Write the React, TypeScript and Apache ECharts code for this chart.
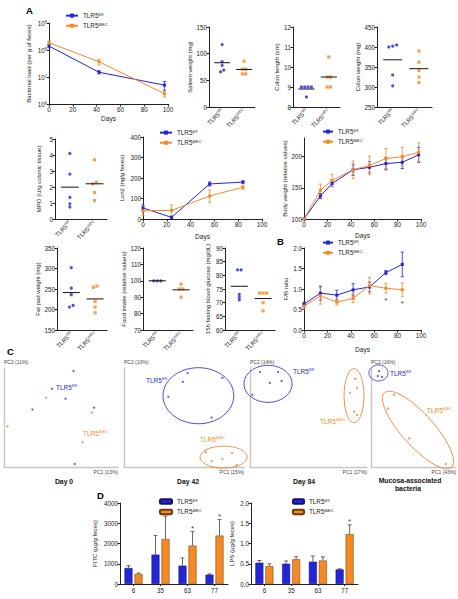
import React, { useEffect, useRef } from 'react';
import * as echarts from 'echarts';

const BLUE = '#2424d8';
const ORANGE = '#f48a26';
const AX = '#222222';
const FONT = '"Liberation Sans", Arial, Helvetica, sans-serif';

// ---------- A: bacterial load (per g of feces), log scale
const loadDays = [0, 42, 97];
const loadFl = [1.4e8, 1.5e7, 5.0e6];
const loadFlSem = [2.0e7, 2.0e6, 1.8e6];
const loadKo = [1.85e8, 3.7e7, 2.4e6];
const loadKoSem = [2.5e7, 9.0e6, 6.0e5];

// ---------- dot plots (one value per mouse)
const spleenFl = [117, 85, 78, 69, 66];
const spleenKo = [86, 71, 71, 62, 62];
const colonLenFl = [9, 9, 9, 9, 8.5];
const colonLenKo = [10.5, 9.5, 9.5, 9, 9];
const colonWtFl = [405, 402, 400, 330, 303];
const colonWtKo = [390, 362, 341, 325, 311];
const mpoFl = [4.1, 2.8, 1.35, 0.95, 0.75];
const mpoKo = [3.7, 2.3, 2.2, 1.65, 1.15];
const fatFl = [302, 252, 236, 210, 206];
const fatKo = [257, 254, 220, 206, 192];
const foodFl = [100, 100, 100];
const foodKo = [98, 95, 95, 90];
const glucoseFl = [82, 82, 73, 72, 71];
const glucoseKo = [73.5, 73.5, 73.5, 70, 67];

// ---------- Lcn2
const lcnDays = [0, 24, 56, 84];
const lcnFl = [54, 8, 171, 180];
const lcnFlSem = [14, 4, 10, 6];
const lcnKo = [40, 42, 112, 155];
const lcnKoSem = [24, 26, 30, 10];

// ---------- Body weight
const bwDays = [0, 14, 24, 42, 56, 70, 84, 98];
const bwFl = [100, 137, 157, 179, 183, 189, 191, 203];
const bwFlSem = [0, 4, 5, 9, 9, 10, 10, 12];
const bwKo = [100, 146, 162, 179, 186, 197, 200, 207];
const bwKoSem = [0, 10, 10, 14, 15, 16, 15, 15];

// ---------- B: F/B ratio
const fbDays = [0, 14, 28, 42, 56, 70, 84];
const fbFl = [0.63, 0.9, 0.85, 0.98, 1.05, 1.4, 1.6];
const fbFlSem = [0.05, 0.17, 0.12, 0.15, 0.12, 0.05, 0.3];
const fbKo = [0.58, 0.83, 0.68, 0.77, 1.08, 1.02, 0.98];
const fbKoSem = [0.07, 0.2, 0.07, 0.1, 0.2, 0.12, 0.17];
const fbSig = [false, false, false, false, false, true, true];

// ---------- C: PCA coordinates (arbitrary units 0-100)
const pca0Fl = [[61, 97], [42, 79], [54, 69], [25, 58], [79, 60], [62, 3]];
const pca0Ko = [[37, 70], [3, 41], [77, 55], [69, 25]];
const pca42Fl = [[53, 95], [49, 86], [82, 90], [37, 71], [73, 50]];
const pca42Ko = [[68, 15], [73, 6], [82, 8], [90, 14], [94, 2]];
const pca84Fl = [[8.5, 96], [24, 96], [17, 85], [27, 87], [2, 73]];
const pca84Ko = [[90, 89], [91.5, 80], [85.5, 75], [89, 56], [91.5, 52.5]];
const pcaMuFl = [[9.4, 97], [8, 92], [13, 91]];
const pcaMuKo = [[27, 73], [20, 59], [45, 29], [88, 3]];
// ellipses: [cx, cy, rx, ry, angle(deg)]
const ell42Fl = [[62, 72, 29.5, 28.3, 0]];
const ell42Ko = [[83, 10, 19.6, 11.1, 0]];
const ell84Fl = [[15.4, 84, 20.5, 18.7, 0]];
const ell84Ko = [[88.9, 72, 8.5, 27.3, 0]];
const ellMuFl = [[8.8, 95, 11.2, 8.1, 0]];
const ellMuKo = [[55.3, 37.4, 59, 16.2, 48]];

// ---------- D
const dCats = ['6', '35', '63', '77'];
const fitcFl = [790, 1450, 906, 461];
const fitcFlSem = [115, 940, 380, 33];
const fitcKo = [494, 2224, 1895, 2390];
const fitcKoSem = [49, 1130, 705, 790];
const fitcSig = [false, false, true, true];
const lpsFl = [0.525, 0.5, 0.55, 0.36];
const lpsFlSem = [0.055, 0.07, 0.14, 0.015];
const lpsKo = [0.44, 0.61, 0.58, 1.23];
const lpsKoSem = [0.06, 0.06, 0.09, 0.23];
const lpsSig = [false, false, false, true];

const FL = '{b|TLR5}{s|fl/fl}';
const KO = '{b|TLR5}{s|ΔIEC}';

const rich = (size: number, color: string) => ({
  b: { fontSize: size, color, fill: color, fontFamily: FONT, lineHeight: size * 1.15 },
  s: { fontSize: size * 0.62, color, fill: color, fontFamily: FONT, verticalAlign: 'top', lineHeight: size * 0.7 },
});

const mean = (a: number[]) => a.reduce((s, v) => s + v, 0) / a.length;

function spread(vals: number[], center: number, tol: number, step: number) {
  const idx = vals.map((_, i) => i).sort((a, b) => vals[a] - vals[b]);
  const out: number[][] = new Array(vals.length);
  let i = 0;
  while (i < idx.length) {
    let j = i;
    while (j + 1 < idx.length && vals[idx[j + 1]] - vals[idx[j]] <= tol) j++;
    const n = j - i + 1;
    for (let k = 0; k < n; k++) {
      const id = idx[i + k];
      out[id] = [center + (k - (n - 1) / 2) * step, vals[id]];
    }
    i = j + 1;
  }
  return out;
}

function errRender(color: string) {
  return (params: any, api: any) => {
    const x = api.value(0), y = api.value(1), e = api.value(2);
    if (!e) return { type: 'group', children: [] };
    const hi = api.coord([x, y + e]);
    const lo = api.coord([x, y - e]);
    const w = 1.6;
    const st = { stroke: color, lineWidth: 0.8 };
    return {
      type: 'group',
      children: [
        { type: 'line', shape: { x1: hi[0], y1: hi[1], x2: lo[0], y2: lo[1] }, style: st },
        { type: 'line', shape: { x1: hi[0] - w, y1: hi[1], x2: hi[0] + w, y2: hi[1] }, style: st },
        { type: 'line', shape: { x1: lo[0] - w, y1: lo[1], x2: lo[0] + w, y2: lo[1] }, style: st },
      ],
    };
  };
}

function starBelowRender(sig: boolean[]) {
  return (params: any, api: any) => {
    if (!sig[params.dataIndex]) return { type: 'group', children: [] };
    const lo = api.coord([api.value(0), api.value(1) - api.value(2)]);
    return {
      type: 'text', x: lo[0], y: lo[1] + 7,
      style: { text: '*', fill: '#444', fontSize: 8, fontFamily: FONT, textAlign: 'center', textVerticalAlign: 'middle' },
    };
  };
}

const BAR_W = 8;
const BAR_GAP = 0.25;

function barErrRender(offset: number, sig: boolean[] | null) {
  return (params: any, api: any) => {
    const i = api.value(0), v = api.value(1), e = api.value(2);
    const base = api.coord([i, v]);
    const top = api.coord([i, v + e]);
    const x = base[0] + offset;
    const st = { stroke: '#555', lineWidth: 0.9 };
    const children: any[] = [
      { type: 'line', shape: { x1: x, y1: base[1], x2: x, y2: top[1] }, style: st },
      { type: 'line', shape: { x1: x - 2, y1: top[1], x2: x + 2, y2: top[1] }, style: st },
    ];
    if (sig && sig[params.dataIndex]) {
      children.push({
        type: 'text', x, y: top[1] - 3,
        style: { text: '*', fill: '#444', fontSize: 8, fontFamily: FONT, textAlign: 'center', textVerticalAlign: 'middle' },
      });
    }
    return { type: 'group', children };
  };
}

function ellipseRender(color: string) {
  return (params: any, api: any) => {
    const c = api.coord([api.value(0), api.value(1)]);
    const rx = api.size([api.value(2), 0])[0];
    const ry = api.size([0, api.value(3)])[1];
    const a = (api.value(4) * Math.PI) / 180;
    const pts: number[][] = [];
    for (let k = 0; k < 80; k++) {
      const t = (k / 80) * Math.PI * 2;
      const ex = rx * Math.cos(t), ey = ry * Math.sin(t);
      pts.push([c[0] + ex * Math.cos(a) - ey * Math.sin(a), c[1] + ex * Math.sin(a) + ey * Math.cos(a)]);
    }
    return { type: 'polygon', shape: { points: pts }, style: { fill: 'none', stroke: color, lineWidth: 0.9 } };
  };
}

function buildOption() {
  const grid: any[] = [];
  const xAxis: any[] = [];
  const yAxis: any[] = [];
  const series: any[] = [];
  const legend: any[] = [];

  const axLine = { show: true, lineStyle: { color: AX, width: 1 } };
  const tick = { show: true, length: 2.5, lineStyle: { color: AX, width: 1 } };
  const tickLabel = { fontSize: 6.3, color: AX, margin: 2, fontFamily: FONT };
  const addGrid = (r: number[]) => {
    grid.push({ left: r[0], top: r[1], width: r[2], height: r[3], containLabel: false });
    return grid.length - 1;
  };
  const yVal = (gi: number, min: number, max: number, interval: number, name: string, gap: number, extra: any = {}) => ({
    type: 'value', gridIndex: gi, min, max, interval,
    axisLine: axLine, axisTick: tick, axisLabel: { ...tickLabel, ...(extra.axisLabel || {}) },
    splitLine: { show: false },
    name, nameLocation: 'middle', nameGap: gap, nameTextStyle: { fontSize: 6, color: AX, fontFamily: FONT },
    ...(extra.axisTick ? { axisTick: { ...tick, ...extra.axisTick } } : {}),
  });
  const xDays = (gi: number, gap: number) => ({
    type: 'value', gridIndex: gi, min: 0, max: 100, interval: 20,
    axisLine: axLine, axisTick: tick, axisLabel: { ...tickLabel }, splitLine: { show: false },
    name: 'Days', nameLocation: 'middle', nameGap: gap, nameTextStyle: { fontSize: 6.5, color: AX, fontFamily: FONT },
  });
  const lineSeries = (gi: number, key: string, days: number[], vals: number[], sem: number[], color: string) => {
    series.push({
      name: key, type: 'line', xAxisIndex: gi, yAxisIndex: gi,
      data: days.map((d, i) => [d, vals[i]]),
      symbol: 'rect', symbolSize: 3, lineStyle: { color, width: 1 }, itemStyle: { color }, z: 3, silent: true,
    });
    series.push({
      type: 'custom', xAxisIndex: gi, yAxisIndex: gi,
      data: days.map((d, i) => [d, vals[i], sem[i]]),
      renderItem: errRender(color), encode: { x: 0, y: 1 }, z: 2, silent: true,
    });
  };
  const dotPanel = (r: number[], fl: number[], ko: number[], min: number, max: number, interval: number, name: string, gap: number) => {
    const gi = addGrid(r);
    xAxis.push({
      type: 'value', gridIndex: gi, min: 0.4, max: 2.5,
      axisLine: axLine, axisTick: { show: false }, splitLine: { show: false },
      axisLabel: {
        customValues: [1, 2], rotate: 45, margin: 3, fontSize: 6, color: AX,
        formatter: (v: number) => (v === 1 ? FL : v === 2 ? KO : ''),
        rich: rich(6, AX),
      },
    });
    yAxis.push(yVal(gi, min, max, interval, name, gap));
    const tol = (max - min) * 0.03;
    const groups: [number[], number, string, string][] = [
      [fl, 1, BLUE, 'circle'],
      [ko, 2, ORANGE, 'rect'],
    ];
    groups.forEach(([vals, c, col, sym]) => {
      series.push({
        type: 'scatter', xAxisIndex: gi, yAxisIndex: gi, data: spread(vals, c, tol, 0.15),
        symbol: sym, symbolSize: 3.2, itemStyle: { color: col }, z: 2, silent: true,
      });
      const m = mean(vals);
      series.push({
        type: 'line', xAxisIndex: gi, yAxisIndex: gi, data: [[c - 0.36, m], [c + 0.36, m]],
        symbol: 'none', lineStyle: { color: '#111', width: 1 }, z: 3, silent: true,
      });
    });
  };
  const barPanel = (r: number[], keyFl: string, keyKo: string, fl: number[], flSem: number[], ko: number[], koSem: number[],
    sig: boolean[], max: number, interval: number, name: string, gap: number, fmt: (v: number) => string) => {
    const gi = addGrid(r);
    xAxis.push({
      type: 'category', gridIndex: gi, data: dCats,
      axisLine: axLine, axisTick: { show: true, length: 2, alignWithLabel: true, lineStyle: { color: AX } },
      axisLabel: { ...tickLabel, margin: 3 },
    });
    yAxis.push(yVal(gi, 0, max, interval, name, gap, { axisLabel: { formatter: fmt } }));
    series.push({
      name: keyFl, type: 'bar', xAxisIndex: gi, yAxisIndex: gi, data: fl, barWidth: BAR_W, barGap: `${BAR_GAP * 100}%`,
      itemStyle: { color: BLUE, borderColor: '#15156a', borderWidth: 0.5 }, silent: true,
    });
    series.push({
      name: keyKo, type: 'bar', xAxisIndex: gi, yAxisIndex: gi, data: ko, barWidth: BAR_W, barGap: `${BAR_GAP * 100}%`,
      itemStyle: { color: ORANGE, borderColor: '#6a3a08', borderWidth: 0.5 }, silent: true,
    });
    const off = (BAR_W * (1 + BAR_GAP)) / 2;
    series.push({
      type: 'custom', xAxisIndex: gi, yAxisIndex: gi, data: fl.map((v, i) => [i, v, flSem[i]]),
      renderItem: barErrRender(-off, null), encode: { x: 0, y: 1 }, z: 1, silent: true,
    });
    series.push({
      type: 'custom', xAxisIndex: gi, yAxisIndex: gi, data: ko.map((v, i) => [i, v, koSem[i]]),
      renderItem: barErrRender(off, sig), encode: { x: 0, y: 1 }, z: 1, silent: true,
    });
  };
  const pcaPanel = (r: number[], flPts: number[][], koPts: number[][], ellFl: number[][], ellKo: number[][], pc1: string, pc2: string) => {
    const gi = addGrid(r);
    const common = {
      type: 'value', gridIndex: gi, min: 0, max: 100,
      axisLine: { show: true, lineStyle: { color: '#c6c6c6', width: 1.4 } },
      axisTick: { show: false }, axisLabel: { show: false }, splitLine: { show: false },
    };
    xAxis.push({
      ...common, name: pc1, nameLocation: 'end', nameGap: 0,
      nameTextStyle: { fontSize: 5, color: '#444', align: 'right', verticalAlign: 'top', padding: [2, 0, 0, 0], fontFamily: FONT },
    });
    yAxis.push({
      ...common, name: pc2, nameLocation: 'end', nameGap: 4,
      nameTextStyle: { fontSize: 5, color: '#444', align: 'left', verticalAlign: 'bottom', fontFamily: FONT },
    });
    series.push({ type: 'scatter', xAxisIndex: gi, yAxisIndex: gi, data: flPts, symbolSize: 2.4, itemStyle: { color: '#4a4ae0' }, silent: true });
    series.push({ type: 'scatter', xAxisIndex: gi, yAxisIndex: gi, data: koPts, symbolSize: 2.4, itemStyle: { color: '#ee8436' }, silent: true });
    if (ellFl.length)
      series.push({ type: 'custom', xAxisIndex: gi, yAxisIndex: gi, data: ellFl, renderItem: ellipseRender('#3434dc'), encode: { x: 0, y: 1 }, silent: true, clip: false });
    if (ellKo.length)
      series.push({ type: 'custom', xAxisIndex: gi, yAxisIndex: gi, data: ellKo, renderItem: ellipseRender('#e8842e'), encode: { x: 0, y: 1 }, silent: true, clip: false });
  };
  const legendAt = (left: number, top: number, data: string[], isBar: boolean, w: number) => ({
    left, top, orient: 'vertical', padding: 0, itemGap: 3.5, itemWidth: w, itemHeight: isBar ? 4.5 : 5,
    data, selectedMode: false,
    formatter: (n: string) => (n.startsWith('fl') ? FL : KO),
    textStyle: { fontSize: 6.3, color: AX, rich: rich(6.3, AX) },
  });

  // ---- A: bacterial load
  {
    const gi = addGrid([49, 23, 119, 81]);
    xAxis.push(xDays(gi, 10.5));
    yAxis.push({
      type: 'log', logBase: 10, gridIndex: gi, min: 1e6, max: 1e9,
      axisLine: axLine, axisTick: tick, splitLine: { show: false }, minorTick: { show: false },
      axisLabel: { ...tickLabel, formatter: (v: number) => `{b|10}{s|${Math.round(Math.log10(v))}}`, rich: rich(6.3, AX) },
      name: 'Bacterial load (per g of feces)', nameLocation: 'middle', nameGap: 17.5,
      nameTextStyle: { fontSize: 6, color: AX, fontFamily: FONT },
    });
    lineSeries(gi, 'flA', loadDays, loadFl, loadFlSem, BLUE);
    lineSeries(gi, 'koA', loadDays, loadKo, loadKoSem, ORANGE);
    legend.push(legendAt(65, 12, ['flA', 'koA'], false, 12));
  }
  dotPanel([209, 27, 46, 80], spleenFl, spleenKo, 0, 150, 50, 'Spleen weight (mg)', 16);
  dotPanel([293, 27, 47, 80], colonLenFl, colonLenKo, 8, 12, 1, 'Colon length (cm)', 10);
  dotPanel([377, 27, 55, 80], colonWtFl, colonWtKo, 250, 450, 50, 'Colon weight (mg)', 10);
  dotPanel([55, 139, 52, 80], mpoFl, mpoKo, 0, 5, 1, 'MPO (U/g colonic tissue)', 13);
  // ---- Lcn2
  {
    const gi = addGrid([143, 137, 119, 82]);
    xAxis.push(xDays(gi, 13.5));
    yAxis.push(yVal(gi, 0, 400, 100, 'Lcn2 (ng/g feces)', 18));
    lineSeries(gi, 'flL', lcnDays, lcnFl, lcnFlSem, BLUE);
    lineSeries(gi, 'koL', lcnDays, lcnKo, lcnKoSem, ORANGE);
    legend.push(legendAt(159, 129, ['flL', 'koL'], false, 12));
  }
  // ---- Body weight
  {
    const gi = addGrid([304, 138, 117, 81]);
    xAxis.push(xDays(gi, 12.5));
    yAxis.push(yVal(gi, 100, 230, 50, 'Body weight (relative values)', 13, {
      axisLabel: { customValues: [100, 150, 200], formatter: (v: number) => (v > 200 ? '' : String(v)) },
      axisTick: { customValues: [100, 150, 200] },
    }));
    lineSeries(gi, 'flW', bwDays, bwFl, bwFlSem, BLUE);
    lineSeries(gi, 'koW', bwDays, bwKo, bwKoSem, ORANGE);
    legend.push(legendAt(322, 128, ['flW', 'koW'], false, 10));
  }
  dotPanel([57, 248, 50, 82], fatFl, fatKo, 150, 350, 50, 'Fat pad weight (mg)', 16);
  dotPanel([143, 248, 50, 82], foodFl, foodKo, 70, 120, 10, 'Food intake (relative values)', 15);
  dotPanel([225, 248, 50, 82], glucoseFl, glucoseKo, 60, 90, 5, '15h fasting blood glucose (mg/dL)', 14);
  // ---- B: F/B ratio
  {
    const gi = addGrid([304, 248, 117, 82]);
    xAxis.push(xDays(gi, 15.5));
    yAxis.push(yVal(gi, 0, 2, 0.5, 'F/B ratio', 14, { axisLabel: { formatter: (v: number) => v.toFixed(1) } }));
    lineSeries(gi, 'flB', fbDays, fbFl, fbFlSem, BLUE);
    lineSeries(gi, 'koB', fbDays, fbKo, fbKoSem, ORANGE);
    series.push({
      type: 'custom', xAxisIndex: gi, yAxisIndex: gi, data: fbDays.map((d, i) => [d, fbKo[i], fbKoSem[i]]),
      renderItem: starBelowRender(fbSig), encode: { x: 0, y: 1 }, silent: true,
    });
    legend.push(legendAt(322, 239, ['flB', 'koB'], false, 10));
  }
  // ---- C: PCA
  pcaPanel([4, 368, 114, 99], pca0Fl, pca0Ko, [], [], 'PC1 (13%)', 'PC2 (11%)');
  pcaPanel([124, 368, 120, 99], pca42Fl, pca42Ko, ell42Fl, ell42Ko, 'PC1 (15%)', 'PC2 (10%)');
  pcaPanel([250, 368, 117, 99], pca84Fl, pca84Ko, ell84Fl, ell84Ko, 'PC1 (17%)', 'PC2 (14%)');
  pcaPanel([371, 368, 85, 99], pcaMuFl, pcaMuKo, ellMuFl, ellMuKo, 'PC1 (43%)', 'PC2 (16%)');
  // ---- D
  barPanel([120, 503, 108, 81], 'flD', 'koD', fitcFl, fitcFlSem, fitcKo, fitcKoSem, fitcSig, 4000, 1000,
    'FITC (µg/g feces)', 22, (v) => String(v));
  legend.push(legendAt(159, 498, ['flD', 'koD'], true, 12));
  barPanel([251, 503, 107, 81], 'flP', 'koP', lpsFl, lpsFlSem, lpsKo, lpsKoSem, lpsSig, 2, 0.5,
    'LPS (µg/g feces)', 16, (v) => v.toFixed(1));
  legend.push(legendAt(292, 498, ['flP', 'koP'], true, 11));

  const letter = (t: string, x: number, y: number) => ({
    type: 'text', x, y,
    style: { text: t, fontSize: 9.5, fontWeight: 'bold', fontFamily: FONT, fill: '#000', textVerticalAlign: 'middle' },
  });
  const grpLabel = (t: string, color: string, x: number, y: number) => ({
    type: 'text', x, y,
    style: { text: t, rich: rich(6.5, color), fill: color, fontSize: 6.5, fontFamily: FONT, textVerticalAlign: 'middle' },
  });
  const title = (t: string, x: number, y: number) => ({
    type: 'text', x, y,
    style: { text: t, fontSize: 6.8, fontWeight: 'bold', fontFamily: FONT, fill: '#111', textAlign: 'center', textVerticalAlign: 'middle' },
  });

  const graphic = [
    letter('A', 26, 10), letter('B', 277, 241), letter('C', 7, 351), letter('D', 97, 495),
    grpLabel(FL, BLUE, 56, 387), grpLabel(KO, ORANGE, 83, 433),
    grpLabel(FL, BLUE, 146, 380), grpLabel(KO, ORANGE, 200, 439),
    grpLabel(FL, BLUE, 293, 371), grpLabel(KO, ORANGE, 320, 421),
    grpLabel(FL, BLUE, 390, 373), grpLabel(KO, ORANGE, 427, 410),
    title('Day 0', 64, 481), title('Day 42', 188, 481), title('Day 84', 304, 481),
    title('Mucosa-associated', 410, 480), title('bacteria', 408, 488.5),
  ];

  return {
    animation: false,
    backgroundColor: '#ffffff',
    textStyle: { fontFamily: FONT },
    grid, xAxis, yAxis, series, legend, graphic,
  };
}

export default function App() {
  const ref = useRef<HTMLDivElement>(null);
  useEffect(() => {
    if (!ref.current) return;
    const chart = echarts.init(ref.current, null, { renderer: 'svg' });
    chart.setOption(buildOption() as any);
    return () => chart.dispose();
  }, []);
  return (
    <div
      ref={ref}
      style={{ position: 'absolute', left: 0, top: 0, width: 458, height: 599, background: '#fff' }}
    />
  );
}
